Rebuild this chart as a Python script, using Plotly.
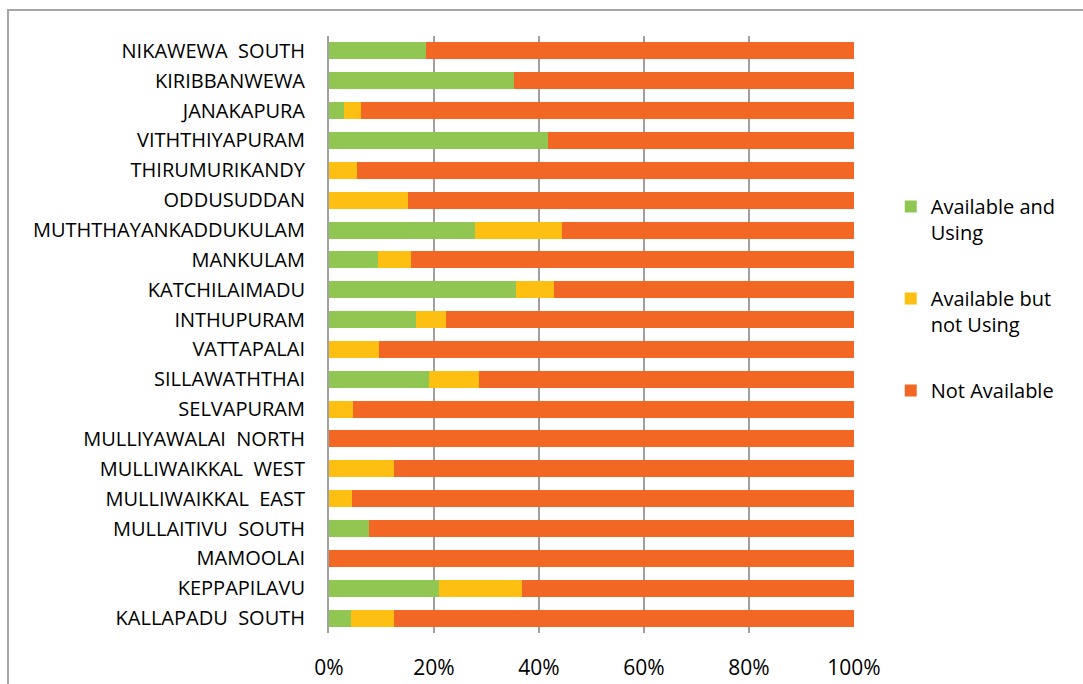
import plotly.graph_objects as go

NBSP = "\u00a0"
categories = [
    "NIKAWEWA  SOUTH", "KIRIBBANWEWA", "JANAKAPURA", "VITHTHIYAPURAM",
    "THIRUMURIKANDY", "ODDUSUDDAN", "MUTHTHAYANKADDUKULAM", "MANKULAM",
    "KATCHILAIMADU", "INTHUPURAM", "VATTAPALAI", "SILLAWATHTHAI",
    "SELVAPURAM", "MULLIYAWALAI  NORTH", "MULLIWAIKKAL  WEST",
    "MULLIWAIKKAL  EAST", "MULLAITIVU  SOUTH", "MAMOOLAI", "KEPPAPILAVU",
    "KALLAPADU  SOUTH",
]
available_using = [18.5, 35.3, 2.9, 41.7, 0, 0, 27.8, 9.3, 35.7, 16.6,
                   0, 19.0, 0, 0, 0, 0, 7.7, 0, 21.0, 4.1]
available_not_using = [0, 0, 3.1, 0, 5.3, 15.0, 16.6, 6.3, 7.1, 5.6,
                       9.5, 9.6, 4.5, 0, 12.4, 4.3, 0, 0, 15.8, 8.3]
not_available = [81.5, 64.7, 94.0, 58.3, 94.7, 85.0, 55.6, 84.4, 57.2, 77.8,
                 90.5, 71.4, 95.5, 100, 87.6, 95.7, 92.3, 100, 63.2, 87.6]

labels = [c.replace("  ", NBSP + " ") for c in categories]

series = [
    ("Available and<br>Using", available_using, "#92C653"),
    ("Available but<br>not Using", available_not_using, "#FCBF12"),
    ("Not Available", not_available, "#F26723"),
]

fig = go.Figure()
for i, (name, vals, col) in enumerate(series):
    fig.add_trace(go.Bar(
        y=labels, x=vals, name=name, orientation="h",
        marker=dict(color=col, line=dict(width=0)),
        legendgroup=f"g{i}",
    ))

font_family = "Open Sans, Liberation Sans, sans-serif"

fig.update_layout(
    barmode="stack",
    bargap=0.43,
    width=1083, height=684,
    margin=dict(l=329, r=229, t=36, b=51, autoexpand=False),
    paper_bgcolor="white", plot_bgcolor="white",
    font=dict(family=font_family, color="#000000"),
    legend=dict(
        x=1.07, y=0.747, xanchor="left", yanchor="top",
        font=dict(size=20, family=font_family),
        traceorder="grouped", tracegroupgap=37, valign="top",
        bgcolor="rgba(0,0,0,0)",
    ),
    xaxis=dict(
        range=[0, 100], dtick=20, ticksuffix="%",
        showgrid=True, gridcolor="#A0A0A0", gridwidth=1.5,
        zeroline=False, showline=False, ticks="", automargin=False,
        tickfont=dict(size=21), ticklabelstandoff=20,
    ),
    yaxis=dict(
        autorange="reversed", showgrid=False, ticks="", automargin=False,
        showline=True, linecolor="#A0A0A0", linewidth=2,
        tickfont=dict(size=20), ticklabelstandoff=18,
    ),
    shapes=[dict(
        type="rect", xref="paper", yref="paper",
        x0=(8 - 329) / 525, x1=1.5, y0=-0.2, y1=(633 - 10) / 597,
        line=dict(color="#A6A6A6", width=2), fillcolor="rgba(0,0,0,0)",
        layer="below",
    )],
)

fig.write_html("out.html")
